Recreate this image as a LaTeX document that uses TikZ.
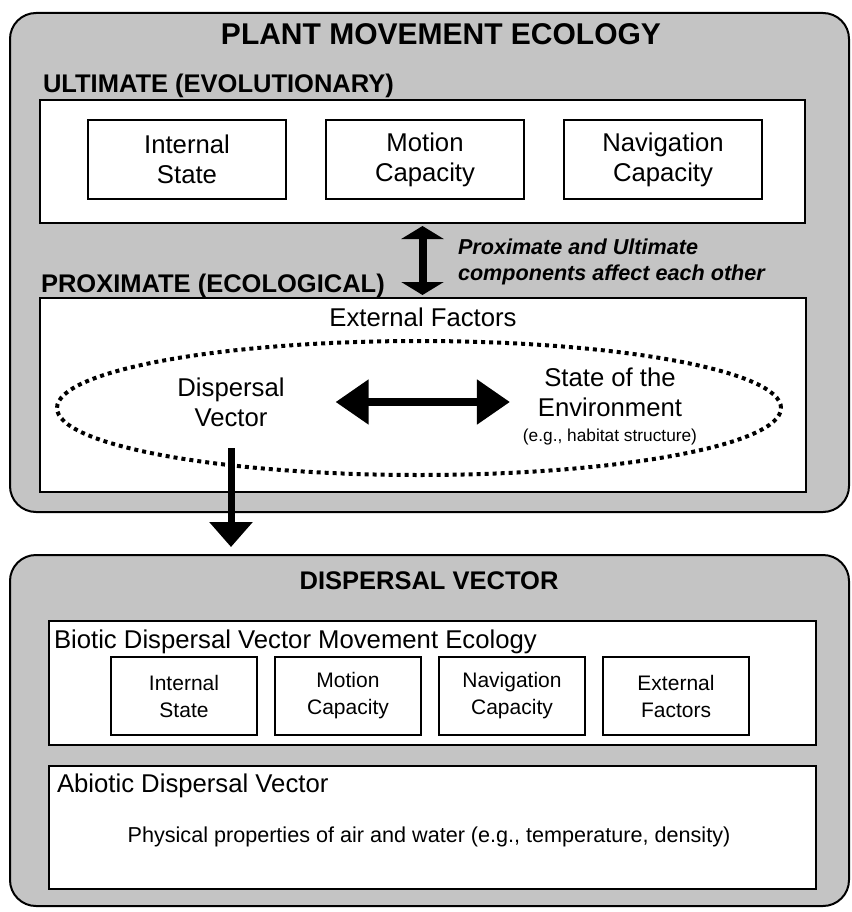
\documentclass[tikz,border=0pt]{standalone}
\usepackage{fontspec}
\setmainfont{Liberation Sans}
\usetikzlibrary{arrows.meta, positioning, shapes.geometric}
\definecolor{panelgray}{RGB}{196,196,196}

\newcommand{\fsz}[2]{\fontsize{#1}{#2}\selectfont}

\begin{document}
\begin{tikzpicture}[x=1pt, y=-1pt,
    every node/.style = {inner sep=0pt, outer sep=0pt},
    panel/.style = {draw, line width=2pt, fill=panelgray, rounded corners=26pt,
                    minimum width=839pt},
    frame/.style = {draw, line width=2pt, fill=white},
    cell/.style = {draw, line width=1.8pt, fill=white, align=center,
                   font=\fsz{25.7}{30}, minimum width=198pt, minimum height=79pt},
    smallcell/.style = {cell, font=\fsz{21}{27}, minimum width=146pt, minimum height=78pt},
    heading/.style = {font=\bfseries\fsz{25.5}{30}, anchor=base west},
    label/.style = {font=\fsz{25.7}{30}},
    dotring/.style = {ellipse, draw, line width=4pt, dash pattern=on 4pt off 4pt},
    fatarrow/.style = {line width=7pt, -{Triangle[length=25pt, width=42pt]}},
    swaparrow/.style = {line width=8pt, {Triangle[length=33pt, width=43pt]}-{Triangle[length=33pt, width=43pt]}},
    linkarrow/.style = {line width=8pt, {Triangle[length=13pt, width=42pt]}-{Triangle[length=13pt, width=42pt]}}
]
  \useasboundingbox (0,0) rectangle (851,912);

  % upper panel
  \node[panel, minimum height=499pt] (plantpanel) at (429.5,262.5) {};
  \node[font=\bfseries\fsz{30}{34}, anchor=base] (title) at (441,45) {PLANT MOVEMENT ECOLOGY};

  \node[heading] (ulthead) at (43,93) {ULTIMATE (EVOLUTIONARY)};
  \node[frame, minimum width=765pt, minimum height=123pt] (ultimate) at (422.5,161.5) {};
  \node[cell] (ustate) at (187,159.5) {Internal\\State};
  \node[cell, right=40pt of ustate] (umotion) {Motion\\Capacity};
  \node[cell, right=40pt of umotion] (unav) {Navigation\\Capacity};

  \node[heading] (proxhead) at (41,292) {PROXIMATE (ECOLOGICAL)};
  \node[frame, minimum width=766pt, minimum height=194pt] (proximate) at (422.5,395) {};
  \node[label, anchor=base] (extfactors) at (423,326) {External Factors};
  \node[dotring, minimum width=724pt, minimum height=134pt] (envelope) at (419,408) {};
  \node[label, align=center] (dv) at (231,402) {Dispersal\\Vector};
  \node[label, align=center] (env) at (610,406)
    {State of the\\Environment\\[-5pt]{\fsz{17.3}{20}(e.g., habitat structure)}};

  \node[font=\bfseries\itshape\fsz{21.6}{26}, align=left, anchor=base west] (note) at (458,280)
    {Proximate and Ultimate\\components affect each other};

  % lower panel
  \node[panel, minimum height=351pt] (vectorpanel) at (429.5,730.5) {};
  \node[font=\bfseries\fsz{25.5}{30}, anchor=base] (vechead) at (429,589) {DISPERSAL VECTOR};

  \node[frame, minimum width=767pt, minimum height=124pt] (biotic) at (432.5,683) {};
  \node[label, anchor=base west] (biohead) at (54,648) {Biotic Dispersal Vector Movement Ecology};
  \node[smallcell] (bstate) at (184,696) {Internal\\State};
  \node[smallcell, right=18pt of bstate] (bmotion) {Motion\\Capacity};
  \node[smallcell, right=18pt of bmotion] (bnav) {Navigation\\Capacity};
  \node[smallcell, right=18pt of bnav] (bext) {External\\Factors};

  \node[frame, minimum width=767pt, minimum height=123pt] (abiotic) at (432.5,827.5) {};
  \node[label, anchor=base west] (abiohead) at (57,792) {Abiotic Dispersal Vector};
  \node[font=\fsz{21.6}{26}] (physics) at (429,837)
    {Physical properties of air and water (e.g., temperature, density)};

  % connectors
  \draw[linkarrow, shorten <=3pt, shorten >=3pt] (ultimate.south) -- (proximate.north);
  \draw[swaparrow, shorten <=51pt, shorten >=13pt] (dv.east) -- (dv.east -| env.west);
  \draw[fatarrow, shorten <=22pt, shorten >=8pt] (dv.south) -- (dv.south |- vectorpanel.north);
\end{tikzpicture}
\end{document}
